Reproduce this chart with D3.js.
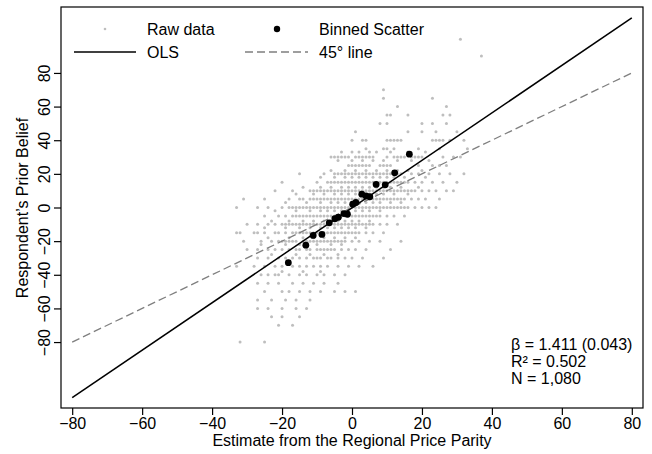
<!DOCTYPE html>
<html>
	<head>
		<meta charset="utf-8">
		<title>Prior belief vs RPP estimate</title>
		<style>
			body { margin: 0; background: #fff; }
			svg { display: block; font-family: "Liberation Sans", Arial, Helvetica, sans-serif; }
		</style>
	</head>
	<body>
		<svg></svg>
		<script src="https://d3js.org/d3.v7.min.js"></script>
		<script>
			// raw responses, one row per answer level (y) with the estimates (x)
			var rawRows = [
				[100, [31]],
				[90, [37]],
				[70, [9]],
				[65, [9, 23]],
				[60, [13, 27]],
				[55, [10, 11, 16, 26, 28]],
				[50, [8, 10, 20, 23, 27]],
				[45, [1, 16, 20, 24, 30]],
				[40, [0, 3, 4, 10, 11, 12, 13, 14, 23, 24, 25, 26, 28, 32]],
				[35, [4, 9, 10, 12, 19, 25, 33]],
				[33, [-3, 0, 2, 5, 7, 11, 16, 21]],
				[30, [-6, -5, -4, -3, -2, -1, 1, 2, 3, 4, 5, 6, 10, 12, 13, 14, 15, 17, 18, 19, 20, 26, 29, 31]],
				[28, [-4, 0, 3, 6, 9, 13, 17, 22]],
				[25, [-1, 0, 1, 2, 3, 4, 5, 8, 9, 10, 11, 19, 23, 25, 27]],
				[22, [-6, -2, 1, 4, 7, 10, 13, 16, 20]],
				[20, [-15, -8, -5, -4, -3, -2, -1, 0, 1, 2, 3, 4, 5, 6, 7, 8, 9, 10, 11, 12, 13, 14, 17, 19, 22, 25, 28, 32]],
				[18, [-9, -5, -2, 0, 2, 4, 6, 8, 10, 12, 15, 21]],
				[15, [-20, -10, -7, -6, -5, -4, -3, -2, -1, 0, 1, 2, 3, 4, 5, 6, 7, 8, 9, 10, 11, 12, 13, 14, 15, 16, 18, 20, 23, 26, 30]],
				[12, [-14, -9, -6, -3, -1, 1, 3, 5, 7, 9, 11, 14, 19]],
				[10, [-22, -17, -12, -11, -10, -9, -8, -7, -6, -5, -4, -3, -2, -1, 0, 1, 2, 3, 4, 5, 6, 7, 8, 9, 10, 11, 12, 13, 14, 15, 16, 17, 18, 20, 22, 24, 27, 29]],
				[8, [-16, -11, -8, -5, -3, -1, 1, 3, 5, 7, 9, 12, 16]],
				[5, [-31, -25, -18, -15, -14, -12, -11, -10, -9, -8, -7, -6, -5, -4, -3, -2, -1, 0, 1, 2, 3, 4, 5, 6, 7, 8, 9, 10, 11, 12, 13, 14, 15, 17, 19, 21, 25]],
				[3, [-19, -13, -9, -6, -4, -2, 0, 2, 4, 6, 8, 11, 14]],
				[0, [-33, -27, -24, -20, -18, -17, -16, -15, -14, -13, -12, -11, -10, -9, -8, -7, -6, -5, -4, -3, -2, -1, 0, 1, 2, 3, 4, 5, 6, 7, 8, 9, 10, 11, 12, 13, 14, 15, 16, 18, 20, 22, 24]],
				[-2, [-22, -16, -12, -9, -7, -5, -3, -1, 1, 3, 5, 8]],
				[-5, [-25, -21, -19, -17, -16, -15, -14, -13, -12, -11, -10, -9, -8, -7, -6, -5, -4, -3, -2, -1, 0, 1, 2, 3, 4, 5, 6, 7, 8, 10, 12, 15]],
				[-8, [-23, -18, -14, -11, -8, -6, -4, -2, 0, 2, 5]],
				[-10, [-30, -27, -24, -22, -20, -19, -18, -17, -16, -15, -14, -13, -12, -11, -10, -9, -8, -7, -6, -5, -4, -3, -2, -1, 0, 1, 2, 3, 4, 5, 6, 8, 10, 13]],
				[-12, [-25, -19, -15, -12, -9, -7, -5, -3, -1, 1, 4]],
				[-15, [-33, -32, -28, -27, -25, -22, -21, -19, -17, -16, -15, -14, -13, -12, -11, -10, -9, -8, -7, -6, -5, -4, -3, -2, -1, 0, 1, 2, 4, 6, 9]],
				[-18, [-24, -18, -14, -11, -8, -5, -2, 1]],
				[-20, [-31, -26, -23, -21, -20, -19, -18, -17, -16, -14, -13, -12, -11, -10, -9, -8, -7, -6, -5, -4, -3, -2, 0, 2, 5, 8, 14]],
				[-22, [-26, -19, -15, -10, -6, -3]],
				[-25, [-30, -27, -24, -22, -20, -18, -16, -15, -13, -12, -10, -9, -8, -7, -6, -5, -3, -1, 1, 4, 11]],
				[-28, [-23, -16, -12, -8, -4]],
				[-30, [-27, -24, -21, -19, -17, -15, -13, -11, -10, -9, -7, -6, -4, -2, 0, 3, 9]],
				[-35, [-33, -28, -25, -22, -20, -17, -15, -13, -11, -9, -7, -4, -1, 2, 6]],
				[-38, [-20, -14, -9]],
				[-40, [-26, -24, -22, -21, -18, -15, -13, -10, -8, -5, -2]],
				[-45, [-27, -24, -21, -17, -14, -11, -8, -4]],
				[-50, [-25, -20, -18, -15, -12, -9, -5, -2, 1]],
				[-55, [-27, -23, -19, -16, -12]],
				[-60, [-27, -24, -20, -16, -13]],
				[-65, [-23, -20, -15]],
				[-70, [-21, -17]],
				[-80, [-32, -25]]
			]

			// binned scatter (bin means)
			var binX = [-18.2, -13.2, -11.1, -8.6, -6.5, -4.9, -3.9, -2.3, -1.3, 0.2, 1.1, 2.8, 4.0, 5.1, 6.9, 9.5, 12.2, 16.4]
			var binY = [-32.8, -22.4, -16.6, -16.0, -9.1, -6.7, -5.8, -3.6, -4.0, 2.0, 3.0, 7.9, 6.9, 6.4, 13.7, 13.5, 20.6, 31.7]

			// fitted line [intercept, slope] and the 45 degree reference
			var olsCoef = [-0.2, 1.411]
			var lineRange = [-80, 80]
			var ticks = [-80, -60, -40, -20, 0, 20, 40, 60, 80]
			var statLines = ["\u03b2 = 1.411 (0.043)", "R\u00b2 = 0.502", "N = 1,080"]

			// init vars
			var _width = 652
			var _height = 454
			var _svg = d3.select("svg").attr("width", _width).attr("height", _height)

			var x = d3.scaleLinear().domain([-83.2, 83.2]).range([61, 643])
			var y = d3.scaleLinear().domain([-119.2, 119.2]).range([408, 7])

			var rawPts = rawRows.flatMap(function (r) {
				return r[1].map(function (v) { return [v, r[0]] })
			})

			// raw points
			_svg.append("g").selectAll("circle")
				.data(rawPts)
				.join("circle")
				.attr("cx", d => x(d[0]))
				.attr("cy", d => y(d[1]))
				.attr("r", 1.5)
				.attr("fill", "#bebebe")

			// 45 degree line
			_svg.append("line")
				.attr("x1", x(lineRange[0])).attr("y1", y(lineRange[0]))
				.attr("x2", x(lineRange[1])).attr("y2", y(lineRange[1]))
				.attr("stroke", "#7f7f7f").attr("stroke-width", 1.3)
				.attr("stroke-dasharray", "8,4")

			// OLS line
			_svg.append("line")
				.attr("x1", x(lineRange[0])).attr("y1", y(olsCoef[0] + olsCoef[1] * lineRange[0]))
				.attr("x2", x(lineRange[1])).attr("y2", y(olsCoef[0] + olsCoef[1] * lineRange[1]))
				.attr("stroke", "#000").attr("stroke-width", 1.5)

			// binned scatter
			_svg.append("g").selectAll("circle")
				.data(binX)
				.join("circle")
				.attr("cx", d => x(d))
				.attr("cy", (d, i) => y(binY[i]))
				.attr("r", 3.4)
				.attr("fill", "#000")

			// box
			_svg.append("rect")
				.attr("x", 61).attr("y", 7).attr("width", 582).attr("height", 401)
				.attr("fill", "none").attr("stroke", "#000").attr("stroke-width", 1.2)

			// axes
			var xAxis = _svg.append("g")
				.attr("transform", "translate(0,408)")
				.call(d3.axisBottom(x).tickValues(ticks).tickSize(7).tickPadding(3))
			xAxis.select(".domain").remove()
			xAxis.selectAll("text").attr("font-size", 16).attr("fill", "#000").attr("font-family", null)
			xAxis.selectAll("line").attr("stroke-width", 1.2)

			var yAxis = _svg.append("g")
				.attr("transform", "translate(61,0)")
				.call(d3.axisLeft(y).tickValues(ticks).tickSize(7))
			yAxis.select(".domain").remove()
			yAxis.selectAll("line").attr("stroke-width", 1.2)
			yAxis.selectAll("text")
				.attr("font-size", 16).attr("fill", "#000").attr("font-family", null)
				.attr("x", null).attr("dy", null)
				.attr("text-anchor", "middle")
				.attr("transform", "translate(-11,0) rotate(-90)")

			// axis titles
			_svg.append("text")
				.attr("x", 352).attr("y", 446)
				.attr("text-anchor", "middle").attr("font-size", 16)
				.text("Estimate from the Regional Price Parity")
			_svg.append("text")
				.attr("transform", "translate(28,208) rotate(-90)")
				.attr("text-anchor", "middle").attr("font-size", 16)
				.text("Respondent\u2019s Prior Belief")

			// legend
			var leg = _svg.append("g").attr("font-size", 16)
			leg.append("circle").attr("cx", 105).attr("cy", 29).attr("r", 1.3).attr("fill", "#bebebe")
			leg.append("text").attr("x", 147).attr("y", 35).text("Raw data")
			leg.append("circle").attr("cx", 277).attr("cy", 29).attr("r", 3.2).attr("fill", "#000")
			leg.append("text").attr("x", 319).attr("y", 35).text("Binned Scatter")
			leg.append("line").attr("x1", 74).attr("x2", 136).attr("y1", 52).attr("y2", 52)
				.attr("stroke", "#000").attr("stroke-width", 1.5)
			leg.append("text").attr("x", 147).attr("y", 58).text("OLS")
			leg.append("line").attr("x1", 245).attr("x2", 308).attr("y1", 52).attr("y2", 52)
				.attr("stroke", "#7f7f7f").attr("stroke-width", 1.3).attr("stroke-dasharray", "8,4")
			leg.append("text").attr("x", 319).attr("y", 58).text("45\u00b0 line")

			// stats
			_svg.append("g").attr("font-size", 16)
				.selectAll("text")
				.data(statLines)
				.join("text")
				.attr("x", 511)
				.attr("y", (d, i) => 350 + i * 17)
				.text(d => d)
		</script>
	</body>
</html>
